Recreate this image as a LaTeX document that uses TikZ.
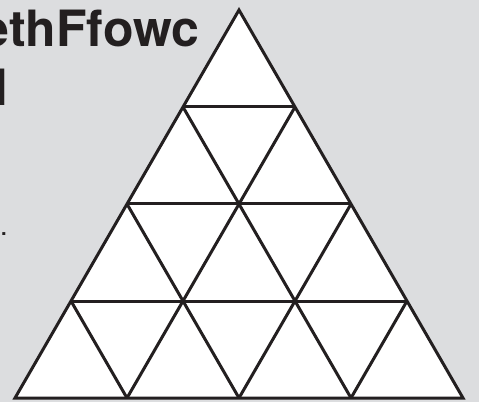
\documentclass[tikz,border=0pt]{standalone}
\usepackage{fontspec}
\usetikzlibrary{calc}
\newfontfamily\heros{TeX Gyre Heros}
\definecolor{bg}{RGB}{220,221,223}
\definecolor{ink}{RGB}{35,31,32}
\begin{document}
\begin{tikzpicture}[x=1pt,y=1pt,
  tri/.style={line width=3pt, draw=ink, line join=miter},
  lbl/.style={font=\heros\bfseries\fontsize{50}{60}\selectfont, text=ink, inner sep=0pt},
  dotlbl/.style={font=\heros\bfseries\fontsize{20}{24}\selectfont, text=ink, inner sep=0pt}]
\fill[bg] (0,0) rectangle (479,402);
\useasboundingbox (0,0) rectangle (479,402);
\begin{scope}
\clip (0,0) rectangle (479,402);
\node[lbl, anchor=base east] (t1) at (199.5,355) {ethFfowc};
\node[lbl, anchor=base east] (t2) at (8.5,296) {d};
\node[dotlbl, anchor=base west] (dot) at (1,167) {.};
\coordinate (A) at (239,392);
\coordinate (L) at (15,4);
\coordinate (R) at (463,4);
\fill[white] (A) -- (L) -- (R) -- cycle;
\foreach \k in {1,2,3}{
  \draw[tri] ($(L)!\k/4!(A)$) -- ($(R)!\k/4!(A)$);
  \draw[tri] ($(L)!\k/4!(R)$) -- ($(R)!{(4-\k)/4}!(A)$);
  \draw[tri] ($(L)!\k/4!(R)$) -- ($(L)!\k/4!(A)$);
}
\draw[tri] (A) -- (L) -- (R) -- cycle;
\end{scope}
\end{tikzpicture}
\end{document}
